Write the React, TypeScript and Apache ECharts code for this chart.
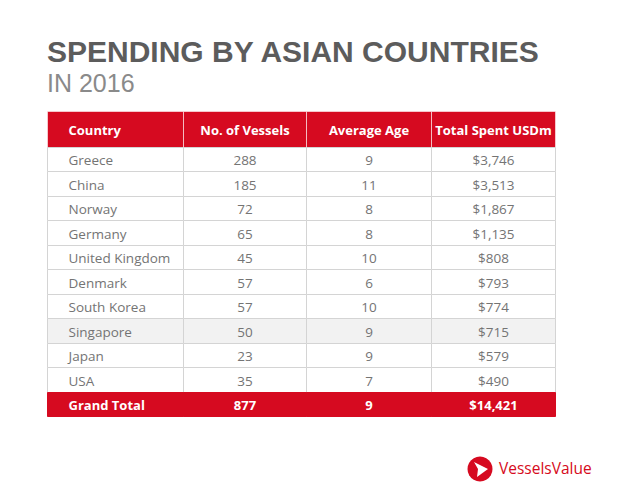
import React, { useEffect, useRef } from "react";
import * as echarts from "echarts";

// ---- data ----
const headerLabels = ["Country", "No. of Vessels", "Average Age", "Total Spent USDm"];
const countries = ["Greece", "China", "Norway", "Germany", "United Kingdom", "Denmark", "South Korea", "Singapore", "Japan", "USA"];
const vessels = [288, 185, 72, 65, 45, 57, 57, 50, 23, 35];
const avgAge = [9, 11, 8, 8, 10, 6, 10, 9, 9, 7];
const spentUSDm = [3746, 3513, 1867, 1135, 808, 793, 774, 715, 579, 490];
const totalLabel = "Grand Total";
const totalVessels = 877;
const totalAvgAge = 9;
const totalSpent = 14421;
const highlightedRow = "Singapore";

const titleText = "SPENDING BY ASIAN COUNTRIES";
const subtitleText = "IN 2016";
const brandText = "VesselsValue";

// ---- layout / style ----
const RED = "#d60a20";
const GRID_LINE = "#d4d4d4";
const TEXT = "#747474";
const FONT = "'Open Sans', 'DejaVu Sans', sans-serif";
const TITLE_FONT = "'Liberation Sans', Arial, sans-serif";
const colEdges = [0, 136, 259, 384, 508]; // column boundaries in table units

const money = (v: number) => "$" + v.toLocaleString("en-US");

const rowNames = [...countries, totalLabel];
const bodyCells: { value: [number, number]; text: string; col: number; row: number }[] = [];
rowNames.forEach((name, r) => {
  const isTotal = r === countries.length;
  const vals = isTotal
    ? [totalLabel, String(totalVessels), String(totalAvgAge), money(totalSpent)]
    : [name, String(vessels[r]), String(avgAge[r]), money(spentUSDm[r])];
  vals.forEach((t, c) => bodyCells.push({ value: [c, r], text: t, col: c, row: r }));
});
const headerCells = headerLabels.map((t, c) => ({ value: [c, 0] as [number, number], text: t, col: c, row: 0 }));

function cellRenderer(kind: "header" | "body") {
  const cells = kind === "header" ? headerCells : bodyCells;
  return (params: any, api: any) => {
    const cell = cells[params.dataIndex];
    const col = cell.col;
    const row = cell.row;
    const p0 = api.coord([colEdges[col], row]);
    const p1 = api.coord([colEdges[col + 1], row]);
    const h = api.size([0, 1])[1];
    const x = Math.round(p0[0]) + 0.5;
    const y = Math.round(p0[1] - h / 2) + 0.5;
    const w = Math.round(p1[0]) - Math.round(p0[0]);
    const hh = Math.round(p0[1] + h / 2) - Math.round(p0[1] - h / 2);
    const isHeader = kind === "header";
    const isTotal = !isHeader && row === countries.length;
    const isHi = !isHeader && rowNames[row] === highlightedRow;
    const fill = isHeader || isTotal ? RED : isHi ? "#f2f2f2" : "#ffffff";
    const stroke = isHeader ? "rgba(255,255,255,0.55)" : isTotal ? RED : GRID_LINE;
    const bold = isHeader || isTotal;
    const tx = col === 0 ? x + 21 : x + w / 2;
    return {
      type: "group",
      children: [
        {
          type: "rect",
          shape: { x, y, width: w, height: hh },
          style: { fill, stroke, lineWidth: 1 },
        },
        {
          type: "text",
          style: {
            text: cell.text,
            x: tx,
            y: y + hh / 2 + 0.5,
            textAlign: col === 0 ? "left" : "center",
            textVerticalAlign: "middle",
            verticalAlign: "middle",
            fill: bold ? "#ffffff" : TEXT,
            fontFamily: FONT,
            fontSize: bold ? 13 : 13.5,
            fontWeight: bold ? 700 : 400,
          },
        },
      ],
    };
  };
}

export default function App() {
  const ref = useRef<HTMLDivElement>(null);
  useEffect(() => {
    document.body.style.margin = "0";
    const chart = echarts.init(ref.current!, undefined, { renderer: "svg" });
    const hiddenAxis = { show: false };
    chart.setOption({
      animation: false,
      backgroundColor: "#ffffff",
      grid: [
        { left: 47, width: 508, top: 111, height: 36 },
        { left: 47, width: 508, top: 147, height: 269 },
      ],
      xAxis: [
        { type: "value", gridIndex: 0, min: 0, max: colEdges[colEdges.length - 1], ...hiddenAxis },
        { type: "value", gridIndex: 1, min: 0, max: colEdges[colEdges.length - 1], ...hiddenAxis },
      ],
      yAxis: [
        { type: "category", gridIndex: 0, data: ["header"], inverse: true, ...hiddenAxis },
        { type: "category", gridIndex: 1, data: rowNames, inverse: true, ...hiddenAxis },
      ],
      series: [
        {
          type: "custom",
          xAxisIndex: 0,
          yAxisIndex: 0,
          data: headerCells,
          renderItem: cellRenderer("header"),
          silent: true,
        },
        {
          type: "custom",
          xAxisIndex: 1,
          yAxisIndex: 1,
          data: bodyCells,
          renderItem: cellRenderer("body"),
          silent: true,
        },
      ],
      graphic: [
        {
          type: "text",
          left: 47,
          top: 36,
          style: { text: titleText, fill: "#5c5c5c", fontFamily: TITLE_FONT, fontSize: 30, fontWeight: 700, lineHeight: 30 },
        },
        {
          type: "text",
          left: 47,
          top: 70,
          style: { text: subtitleText, fill: "#8a8a8a", fontFamily: TITLE_FONT, fontSize: 25, fontWeight: 400, lineHeight: 25 },
        },
        {
          type: "circle",
          shape: { cx: 480, cy: 469, r: 12.5 },
          style: { fill: RED },
        },
        {
          type: "polygon",
          shape: { points: [[474, 462], [488, 469], [477, 477], [478, 469]] },
          style: { fill: "#ffffff" },
        },
        {
          type: "text",
          left: 499,
          top: 460,
          style: { text: brandText, fill: RED, fontFamily: FONT, fontSize: 15.5, fontWeight: 400 },
        },
      ],
    });
    return () => chart.dispose();
  }, []);
  return <div ref={ref} style={{ width: 642, height: 500 }} />;
}
